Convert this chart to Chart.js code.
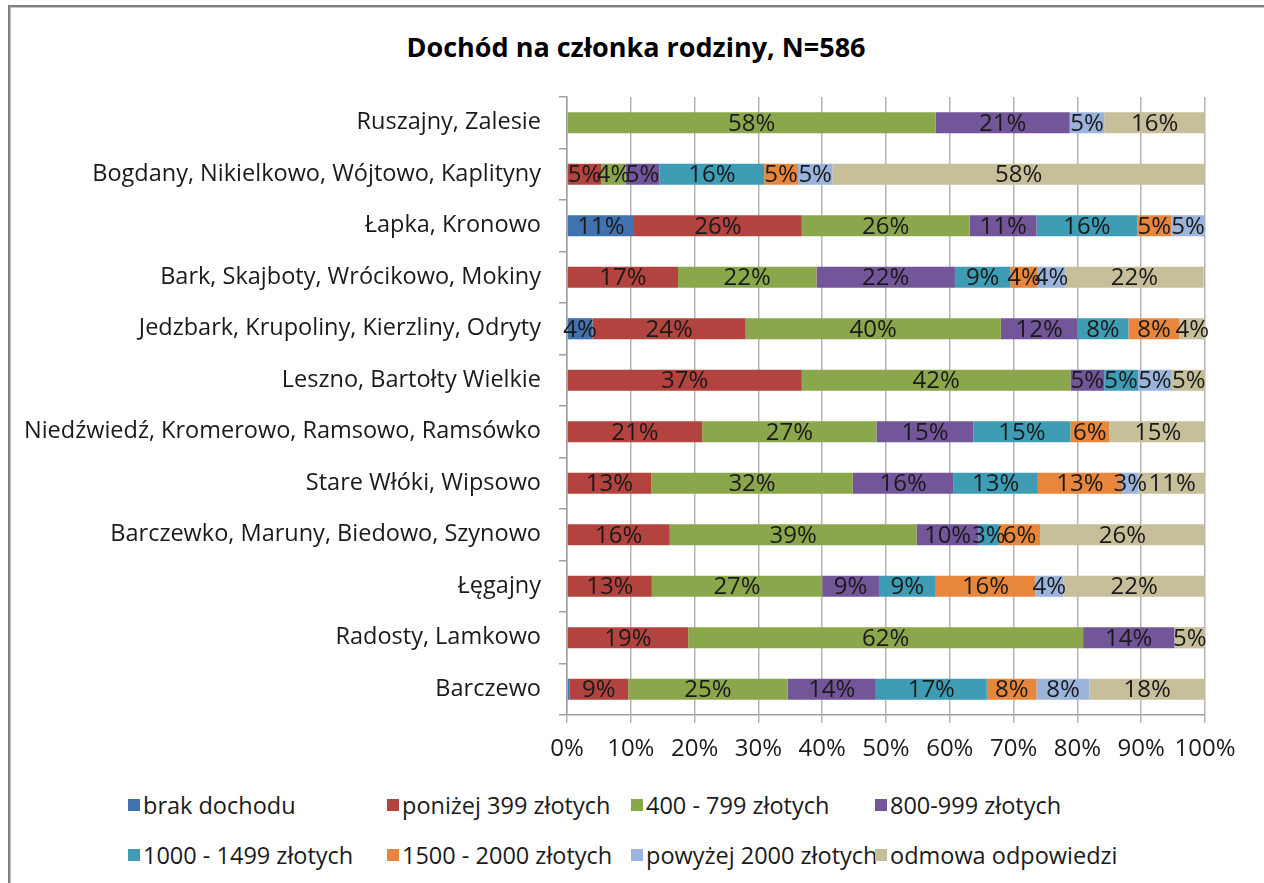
<!DOCTYPE html>
<html lang="pl">
<head>
<meta charset="utf-8">
<title>Dochód na członka rodziny, N=586</title>
<script src="https://cdn.jsdelivr.net/npm/chart.js@4.4.1/dist/chart.umd.min.js"></script>
<style>
  html, body { margin: 0; padding: 0; background: #fff; }
  body { width: 1264px; height: 883px; position: relative; overflow: hidden; font-family: "Open Sans", sans-serif; }
  #frame { position: absolute; left: 8px; top: 5px; width: 1300px; height: 900px;
           border-left: 2px solid #808080; border-top: 2px solid #808080; box-shadow: inset 1px 1px 0 #c8c8c8; }
  #title { position: absolute; left: 0; top: 30px; width: 1272px; text-align: center;
           font-size: 27px; line-height: 34px; font-weight: bold; color: #000; }
  #chart { position: absolute; left: 0; top: 0; }
  #legend { position: absolute; left: 128px; top: 780px; display: grid;
            grid-template-columns: 259px 244px 244px 260px; grid-auto-rows: 50px;
            font-size: 23.5px; color: #1a1a1a; }
  .item { display: flex; align-items: center; white-space: nowrap; }
  .box { width: 12px; height: 12px; margin-right: 3px; flex: none; }
</style>
</head>
<body>
<div id="frame"></div>
<div id="title">Dochód na członka rodziny, N=586</div>
<canvas id="chart" width="1264" height="770"></canvas>
<div id="legend"></div>
<script>
// kategorie (od góry do dołu)
var categories = [
  "Ruszajny, Zalesie",
  "Bogdany, Nikielkowo, Wójtowo, Kaplityny",
  "Łapka, Kronowo",
  "Bark, Skajboty, Wrócikowo, Mokiny",
  "Jedzbark, Krupoliny, Kierzliny, Odryty",
  "Leszno, Bartołty Wielkie",
  "Niedźwiedź, Kromerowo, Ramsowo, Ramsówko",
  "Stare Włóki, Wipsowo",
  "Barczewko, Maruny, Biedowo, Szynowo",
  "Łęgajny",
  "Radosty, Lamkowo",
  "Barczewo"
];

var seriesNames = [
  "brak dochodu", "poniżej 399 złotych", "400 - 799 złotych", "800-999 złotych",
  "1000 - 1499 złotych", "1500 - 2000 złotych", "powyżej 2000 złotych", "odmowa odpowiedzi"
];
var seriesColors = ["#3f72af", "#b3433f", "#8aa74b", "#73569a", "#3e9cb5", "#e8863c", "#9bb4dc", "#c6bf9a"];

// udział procentowy w każdej kategorii
var brakDochodu = [0, 0, 10.5, 0, 4.0, 0, 0, 0, 0, 0, 0, 0.4];
var ponizej399  = [0, 5.4, 26.3, 17.4, 24.0, 36.8, 21.2, 13.2, 16.1, 13.3, 19.0, 9.2];
var od400do799  = [57.8, 3.8, 26.3, 21.7, 40.0, 42.1, 27.3, 31.6, 38.7, 26.7, 61.9, 25.0];
var od800do999  = [21.0, 5.3, 10.5, 21.7, 12.0, 5.3, 15.2, 15.8, 9.7, 8.9, 14.3, 13.8];
var od1000do1499 = [0, 16.4, 15.8, 8.7, 8.0, 5.3, 15.2, 13.2, 3.2, 8.9, 0, 17.4];
var od1500do2000 = [0, 5.3, 5.3, 4.3, 8.0, 0, 6.1, 13.2, 6.45, 15.6, 0, 7.8];
var powyzej2000 = [5.4, 5.4, 5.3, 4.3, 0, 5.3, 0, 2.6, 0, 4.4, 0, 8.3];
var odmowa      = [15.8, 58.4, 0, 21.7, 4.0, 5.3, 15.2, 10.5, 25.8, 22.2, 4.8, 18.1];

var xTicks = [0, 10, 20, 30, 40, 50, 60, 70, 80, 90, 100];

var seriesData = [brakDochodu, ponizej399, od400do799, od800do999, od1000do1499, od1500do2000, powyzej2000, odmowa];

var datasets = seriesData.map(function(d, i) {
  return {
    label: seriesNames[i],
    data: d,
    backgroundColor: seriesColors[i],
    borderWidth: 0,
    categoryPercentage: 1.0,
    barPercentage: 0.41
  };
});

var textColor = "#1a1a1a";
var font = '"Open Sans", sans-serif';

// etykiety wartości na słupkach
var barLabels = {
  id: "barLabels",
  afterDatasetsDraw: function(chart) {
    var ctx = chart.ctx;
    ctx.save();
    ctx.font = "24px " + font;
    ctx.fillStyle = textColor;
    ctx.textAlign = "center";
    ctx.textBaseline = "middle";
    chart.data.datasets.forEach(function(ds, i) {
      var meta = chart.getDatasetMeta(i);
      meta.data.forEach(function(bar, j) {
        var v = Math.round(ds.data[j]);
        if (!v) return;
        var p = bar.getProps(["x", "base", "y"], true);
        ctx.fillText(v + "%", (p.x + p.base) / 2, p.y + 1);
      });
    });
    ctx.restore();
  }
};

var chart = new Chart(document.getElementById("chart"), {
  type: "bar",
  data: { labels: categories, datasets: datasets },
  plugins: [barLabels],
  options: {
    indexAxis: "y",
    responsive: false,
    animation: false,
    devicePixelRatio: 1,
    layout: { padding: { left: 0, right: 59, top: 97, bottom: 0 } },
    plugins: {
      legend: { display: false },
      tooltip: { enabled: false },
      title: { display: false }
    },
    scales: {
      x: {
        stacked: true,
        min: 0,
        max: 100,
        afterBuildTicks: function(scale) {
          scale.ticks = xTicks.map(function(v) { return { value: v }; });
        },
        afterFit: function(scale) { scale.height = 55; },
        grid: { color: "#b4b4b4", lineWidth: 1.5, tickLength: 8 },
        border: { color: "#a0a0a0", width: 1.5 },
        ticks: {
          color: textColor,
          font: { family: font, size: 24 },
          padding: 12,
          autoSkip: false,
          maxRotation: 0,
          callback: function(v) { return v + "%"; }
        }
      },
      y: {
        stacked: true,
        afterFit: function(scale) { scale.width = 567; },
        grid: { offset: true, drawOnChartArea: false, color: "#a0a0a0", lineWidth: 1.5, tickLength: 8 },
        border: { color: "#a0a0a0", width: 1.5 },
        ticks: {
          color: textColor,
          font: { family: font, size: 23.5 },
          padding: 18,
          autoSkip: false
        }
      }
    }
  }
});

// legenda w dwóch wierszach po 4 pozycje
var legend = document.getElementById("legend");
seriesNames.forEach(function(name, i) {
  var item = document.createElement("div");
  item.className = "item";
  var box = document.createElement("span");
  box.className = "box";
  box.style.background = seriesColors[i];
  var txt = document.createElement("span");
  txt.textContent = name;
  item.appendChild(box);
  item.appendChild(txt);
  legend.appendChild(item);
});
</script>
</body>
</html>
